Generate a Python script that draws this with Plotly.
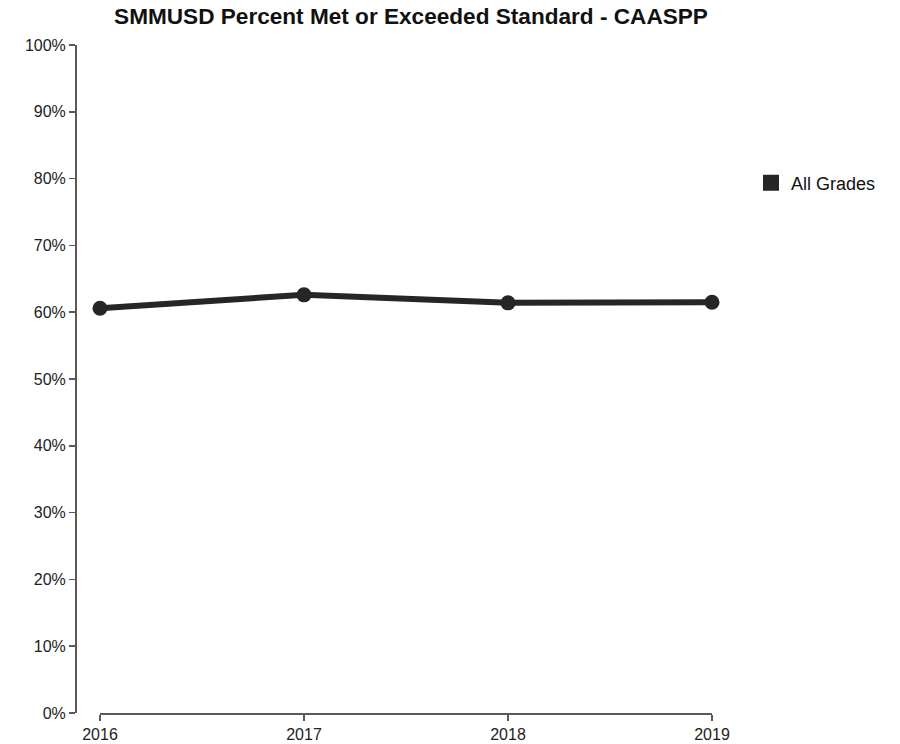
import plotly.graph_objects as go

years = [2016, 2017, 2018, 2019]
pct_met = [60.6, 62.6, 61.4, 61.5]
y_ticks = list(range(0, 101, 10))
y_tick_labels = [f"{v}%" for v in y_ticks]

W, H = 900, 744
ink = "#262626"
axis_col = "#5a5a5a"
font_family = "Liberation Sans, Arial, sans-serif"

top, bottom = 45, 713
fig = go.Figure()
fig.add_trace(go.Scatter(
    x=years, y=pct_met, mode="lines+markers",
    line=dict(color=ink, width=6),
    marker=dict(color=ink, size=15),
    cliponaxis=False, showlegend=False, name="All Grades",
))
fig.add_trace(go.Scatter(
    x=[None], y=[None], mode="markers",
    marker=dict(color=ink, size=18, symbol="square"),
    name="All Grades", showlegend=True,
))

fig.update_layout(
    width=W, height=H,
    margin=dict(l=0, r=0, t=top, b=H - bottom),
    paper_bgcolor="white", plot_bgcolor="white",
    font=dict(family=font_family, size=16, color="#222222"),
    title=dict(
        text="<b>SMMUSD Percent Met or Exceeded Standard - CAASPP</b>",
        x=411 / W, xanchor="center", xref="paper",
        y=1 - 16 / H, yanchor="middle", yref="container",
        font=dict(size=22.6, color="#111111", family=font_family),
    ),
    xaxis=dict(
        domain=[100 / W, 712 / W],
        range=[2016, 2019],
        tickvals=years, ticktext=[str(y) for y in years],
        showgrid=False, zeroline=False,
        showline=True, linecolor=axis_col, linewidth=1.5,
        ticks="outside", ticklen=6, tickcolor=axis_col, tickwidth=1.5,
        automargin=False,
    ),
    yaxis=dict(
        anchor="free", position=75 / W,
        range=[0, 100],
        tickvals=y_ticks, ticktext=y_tick_labels,
        showgrid=False, zeroline=False,
        showline=True, linecolor=axis_col, linewidth=1.5,
        ticks="outside", ticklen=6, tickcolor=axis_col, tickwidth=1.5,
        automargin=False,
    ),
    legend=dict(
        x=751 / W, xanchor="left",
        y=(bottom - 183) / (bottom - top), yanchor="middle",
        font=dict(size=18, color="#111111"),
        bgcolor="rgba(0,0,0,0)",
    ),
    hovermode=False,
)

fig.write_html(
    "out.html",
    config={"displayModeBar": False, "staticPlot": True},
    post_script="document.body.style.margin='0';",
)
